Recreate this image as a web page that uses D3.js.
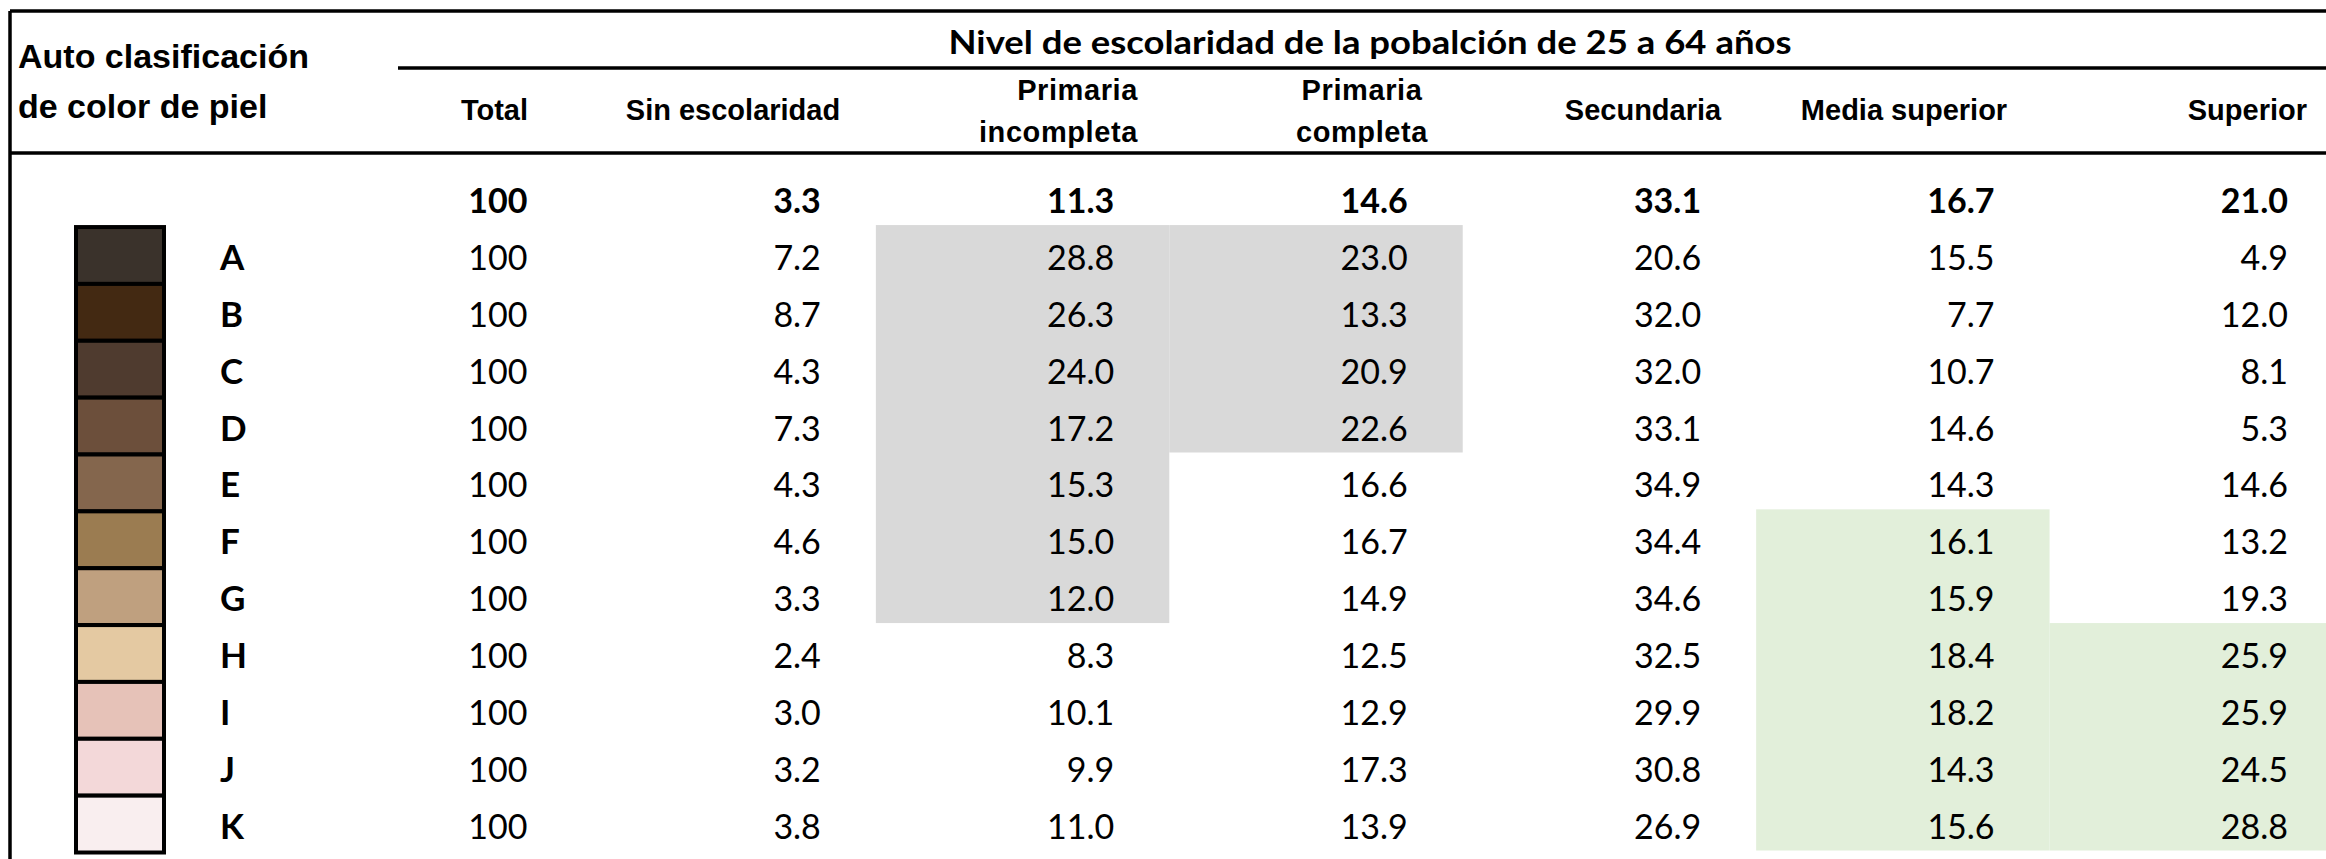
<!DOCTYPE html>
<html>
<head>
<meta charset="utf-8">
<script src="https://cdn.jsdelivr.net/npm/d3@7"></script>
<style>
  body { margin: 0; background: #fff; }
  svg { display: block; }
</style>
</head>
<body>
<div id="chart"></div>
<script>
// Table data
const columns = ["Total", "Sin escolaridad", "Primaria incompleta", "Primaria completa", "Secundaria", "Media superior", "Superior"];
const headerLines = [["Total"], ["Sin escolaridad"], ["Primaria", "incompleta"], ["Primaria", "completa"], ["Secundaria"], ["Media superior"], ["Superior"]];
const rowLabels = ["A", "B", "C", "D", "E", "F", "G", "H", "I", "J", "K"];
const skinColors = ["#3a322b", "#432912", "#4f3b2f", "#6c4f3b", "#84664d", "#9b7c51", "#bfa07f", "#e4c9a2", "#e6c2b8", "#f3d8d9", "#f9eeef"];

const totalRow = ["100", "3.3", "11.3", "14.6", "33.1", "16.7", "21.0"];
const total = ["100", "100", "100", "100", "100", "100", "100", "100", "100", "100", "100"];
const sinEscolaridad = ["7.2", "8.7", "4.3", "7.3", "4.3", "4.6", "3.3", "2.4", "3.0", "3.2", "3.8"];
const primariaIncompleta = ["28.8", "26.3", "24.0", "17.2", "15.3", "15.0", "12.0", "8.3", "10.1", "9.9", "11.0"];
const primariaCompleta = ["23.0", "13.3", "20.9", "22.6", "16.6", "16.7", "14.9", "12.5", "12.9", "17.3", "13.9"];
const secundaria = ["20.6", "32.0", "32.0", "33.1", "34.9", "34.4", "34.6", "32.5", "29.9", "30.8", "26.9"];
const mediaSuperior = ["15.5", "7.7", "10.7", "14.6", "14.3", "16.1", "15.9", "18.4", "18.2", "14.3", "15.6"];
const superior = ["4.9", "12.0", "8.1", "5.3", "14.6", "13.2", "19.3", "25.9", "25.9", "24.5", "28.8"];
const series = [total, sinEscolaridad, primariaIncompleta, primariaCompleta, secundaria, mediaSuperior, superior];

// highlighted cells: [column, first row, last row]
const greyCells = [["Primaria incompleta", "A", "G"], ["Primaria completa", "A", "D"]];
const greenCells = [["Media superior", "F", "K"], ["Superior", "H", "K"]];

const title = "Nivel de escolaridad de la pobalción de 25 a 64 años";
const rowHeader = ["Auto clasificación", "de color de piel"];

// Canvas
const W = 2326, H = 859;
const svg = d3.select("#chart").append("svg")
  .attr("width", W)
  .attr("height", H);

const headFont = "'Liberation Sans', Arial, sans-serif";
const numFont = "Lato, 'Open Sans', sans-serif";

// Scales: columns and rows are bands
const xSc = d3.scaleBand()
  .domain(columns)
  .range([289, 2343]);
const ySc = d3.scaleBand()
  .domain(["total"].concat(rowLabels))
  .range([168.2, 850.5]);

// Shaded cells
function shade(list, color) {
  list.forEach(([col, r0, r1]) => {
    svg.append("rect")
      .attr("x", xSc(col))
      .attr("y", ySc(r0))
      .attr("width", xSc.bandwidth())
      .attr("height", ySc(r1) + ySc.bandwidth() - ySc(r0))
      .attr("fill", color);
  });
}
shade(greyCells, "#d9d9d9");
shade(greenCells, "#e2efda");

// Frame lines
const lines = [
  [10, 11, W, 11],
  [10, 11, 10, H],
  [398, 68, W, 68],
  [10, 153, W, 153]
];
svg.selectAll("line.frame")
  .data(lines)
  .join("line")
  .attr("class", "frame")
  .attr("x1", d => d[0]).attr("y1", d => d[1])
  .attr("x2", d => d[2]).attr("y2", d => d[3])
  .attr("stroke", "#000")
  .attr("stroke-width", 3.5);

// Title
svg.append("text")
  .attr("x", 1370)
  .attr("y", 54)
  .attr("text-anchor", "middle")
  .attr("font-family", numFont)
  .attr("font-weight", "bold")
  .attr("font-size", 33)
  .attr("textLength", 843)
  .attr("lengthAdjust", "spacingAndGlyphs")
  .text(title);

// Row header
svg.selectAll("text.rowhead")
  .data(rowHeader)
  .join("text")
  .attr("class", "rowhead")
  .attr("x", 18)
  .attr("y", (d, i) => 68 + i * 50)
  .attr("font-family", headFont)
  .attr("font-weight", "bold")
  .attr("font-size", 34)
  .text(d => d);

// Column headers (anchor, x)
const headerPos = [["end", 528], ["middle", 733], ["end", 1138], ["middle", 1362], ["middle", 1643], ["middle", 1904], ["end", 2307]];
columns.forEach((c, i) => {
  const ls = headerLines[i];
  const ys = ls.length === 1 ? [120] : [100, 142];
  ls.forEach((t, j) => {
    svg.append("text")
      .attr("x", headerPos[i][1])
      .attr("y", ys[j])
      .attr("text-anchor", headerPos[i][0])
      .attr("font-family", headFont)
      .attr("font-weight", "bold")
      .attr("font-size", 29)
      .attr("letter-spacing", ls.length > 1 ? 0.6 : 0)
      .text(t);
  });
});

// Skin colour swatches
svg.selectAll("rect.swatch")
  .data(rowLabels)
  .join("rect")
  .attr("class", "swatch")
  .attr("x", 76)
  .attr("y", d => ySc(d) + 2)
  .attr("width", 88)
  .attr("height", ySc.bandwidth())
  .attr("fill", (d, i) => skinColors[i])
  .attr("stroke", "#000")
  .attr("stroke-width", 4);

// Row letters
svg.selectAll("text.rowlab")
  .data(rowLabels)
  .join("text")
  .attr("class", "rowlab")
  .attr("x", 220)
  .attr("y", d => ySc(d) + 45)
  .attr("font-family", numFont)
  .attr("font-weight", "bold")
  .attr("font-size", 35)
  .text(d => d);

// Total row (bold)
svg.selectAll("text.totalrow")
  .data(totalRow)
  .join("text")
  .attr("class", "totalrow")
  .attr("x", (d, i) => xSc(columns[i]) + xSc.bandwidth() - 55)
  .attr("y", ySc("total") + 45)
  .attr("text-anchor", "end")
  .attr("font-family", numFont)
  .attr("font-weight", "bold")
  .attr("font-size", 34)
  .text(d => d);

// Body values
series.forEach((vals, ci) => {
  svg.append("g")
    .selectAll("text")
    .data(vals)
    .join("text")
    .attr("x", xSc(columns[ci]) + xSc.bandwidth() - 55)
    .attr("y", (d, ri) => ySc(rowLabels[ri]) + 45)
    .attr("text-anchor", "end")
    .attr("font-family", numFont)
    .attr("font-size", 34)
    .text(d => d);
});
</script>
</body>
</html>
